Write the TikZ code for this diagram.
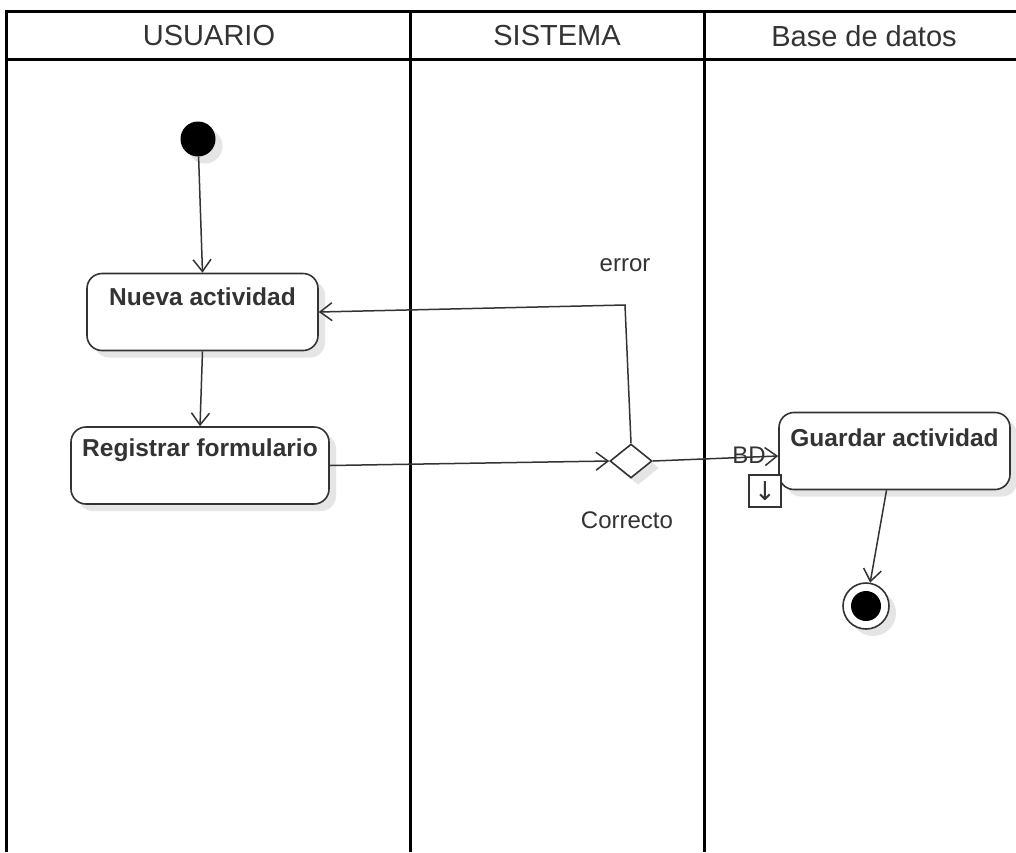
\documentclass[tikz,border=0pt]{standalone}
\usepackage{fontspec}
\setmainfont{Liberation Sans}
\newfontfamily\arrowfont{DejaVu Sans}
\usepackage{tikz}
\usepackage{xcolor}
\usetikzlibrary{arrows.meta,shapes.geometric,shadows}
\definecolor{lineclr}{HTML}{333333}
\definecolor{txtclr}{HTML}{333333}

\begin{document}
\begin{tikzpicture}[x=1pt,y=-1pt,
  every node/.style={font=\fontsize{24}{28}\selectfont, text=txtclr},
  lane/.style={line width=3pt, black},
  shade/.style={drop shadow={shadow xshift=7pt, shadow yshift=-7pt, fill=black!10, opacity=1}},
  act/.style={draw=lineclr, line width=1.6pt, rounded corners=15pt, fill=white, shade,
    minimum height=77pt, inner sep=0pt},
  acttxt/.style={anchor=center, font=\bfseries\fontsize{24.5}{28}\selectfont, text=txtclr},
  flow/.style={draw=lineclr, line width=1.5pt, -{Straight Barb[length=12pt,width=18pt]}}]
\useasboundingbox (0,0) rectangle (1016,852);
\fill[white] (0,0) rectangle (1016,852);
% swimlanes
\draw[lane] (6,852) -- (6,11) -- (1016,11);
\draw[lane] (6,59) -- (1016,59);
\draw[lane] (410,11) -- (410,852);
\draw[lane] (704,11) -- (704,852);
\node[font=\fontsize{29}{32}\selectfont] (usuario) at (209,36) {USUARIO};
\node[font=\fontsize{29}{32}\selectfont] (sistema) at (557,36) {SISTEMA};
\node[font=\fontsize{29}{32}\selectfont] (bdatos) at (864,36) {Base de datos};
% nodes
\node[circle, fill=black, minimum size=35pt, inner sep=0pt, shade] (inicio) at (198,139) {};
\node[act, minimum width=231pt, label={[acttxt, yshift=-24pt]north:Nueva actividad}] (nueva) at (202.5,312) {};
\node[act, minimum width=258pt, label={[acttxt, yshift=-24pt]north:Registrar formulario}] (registrar) at (200,465.5) {};
\node[diamond, draw=lineclr, line width=1.6pt, fill=white, shade, minimum width=42pt,
  minimum height=34pt, aspect=1.25, inner sep=0pt] (decision) at (631,461) {};
\node[act, minimum width=231pt, label={[acttxt, yshift=-26pt]north:Guardar actividad}] (guardar) at (894.5,451) {};
\node[circle, draw=lineclr, line width=1.6pt, fill=white, minimum size=46pt, inner sep=0pt, shade] (fin) at (866,606) {};
\node[circle, fill=black, minimum size=30pt, inner sep=0pt] (finpunto) at (fin) {};
\node[draw=lineclr, line width=1.6pt, fill=white, minimum size=32pt, inner sep=0pt,
  font=\arrowfont\fontsize{26}{28}\selectfont] (bajar) at (765,491) {↓};
\coordinate (giro) at (625,305);
% connectors
\draw[flow] (inicio) -- (nueva.north);
\draw[flow] (nueva.south) -- (registrar.north);
\draw[flow] (registrar.east) -- (decision.west);
\draw[flow] (decision.north) -- (giro) -- (nueva.east);
\draw[flow] (decision.east) -- ([yshift=-5pt]guardar.west);
\draw[flow] ([xshift=-8pt]guardar.south) -- (fin);
\node (error) at (625,265) {error};
\node (correcto) at (627,520) {Correcto};
\node[font=\fontsize{24}{26}\selectfont] (bd) at (749,455) {BD};
\end{tikzpicture}
\end{document}
